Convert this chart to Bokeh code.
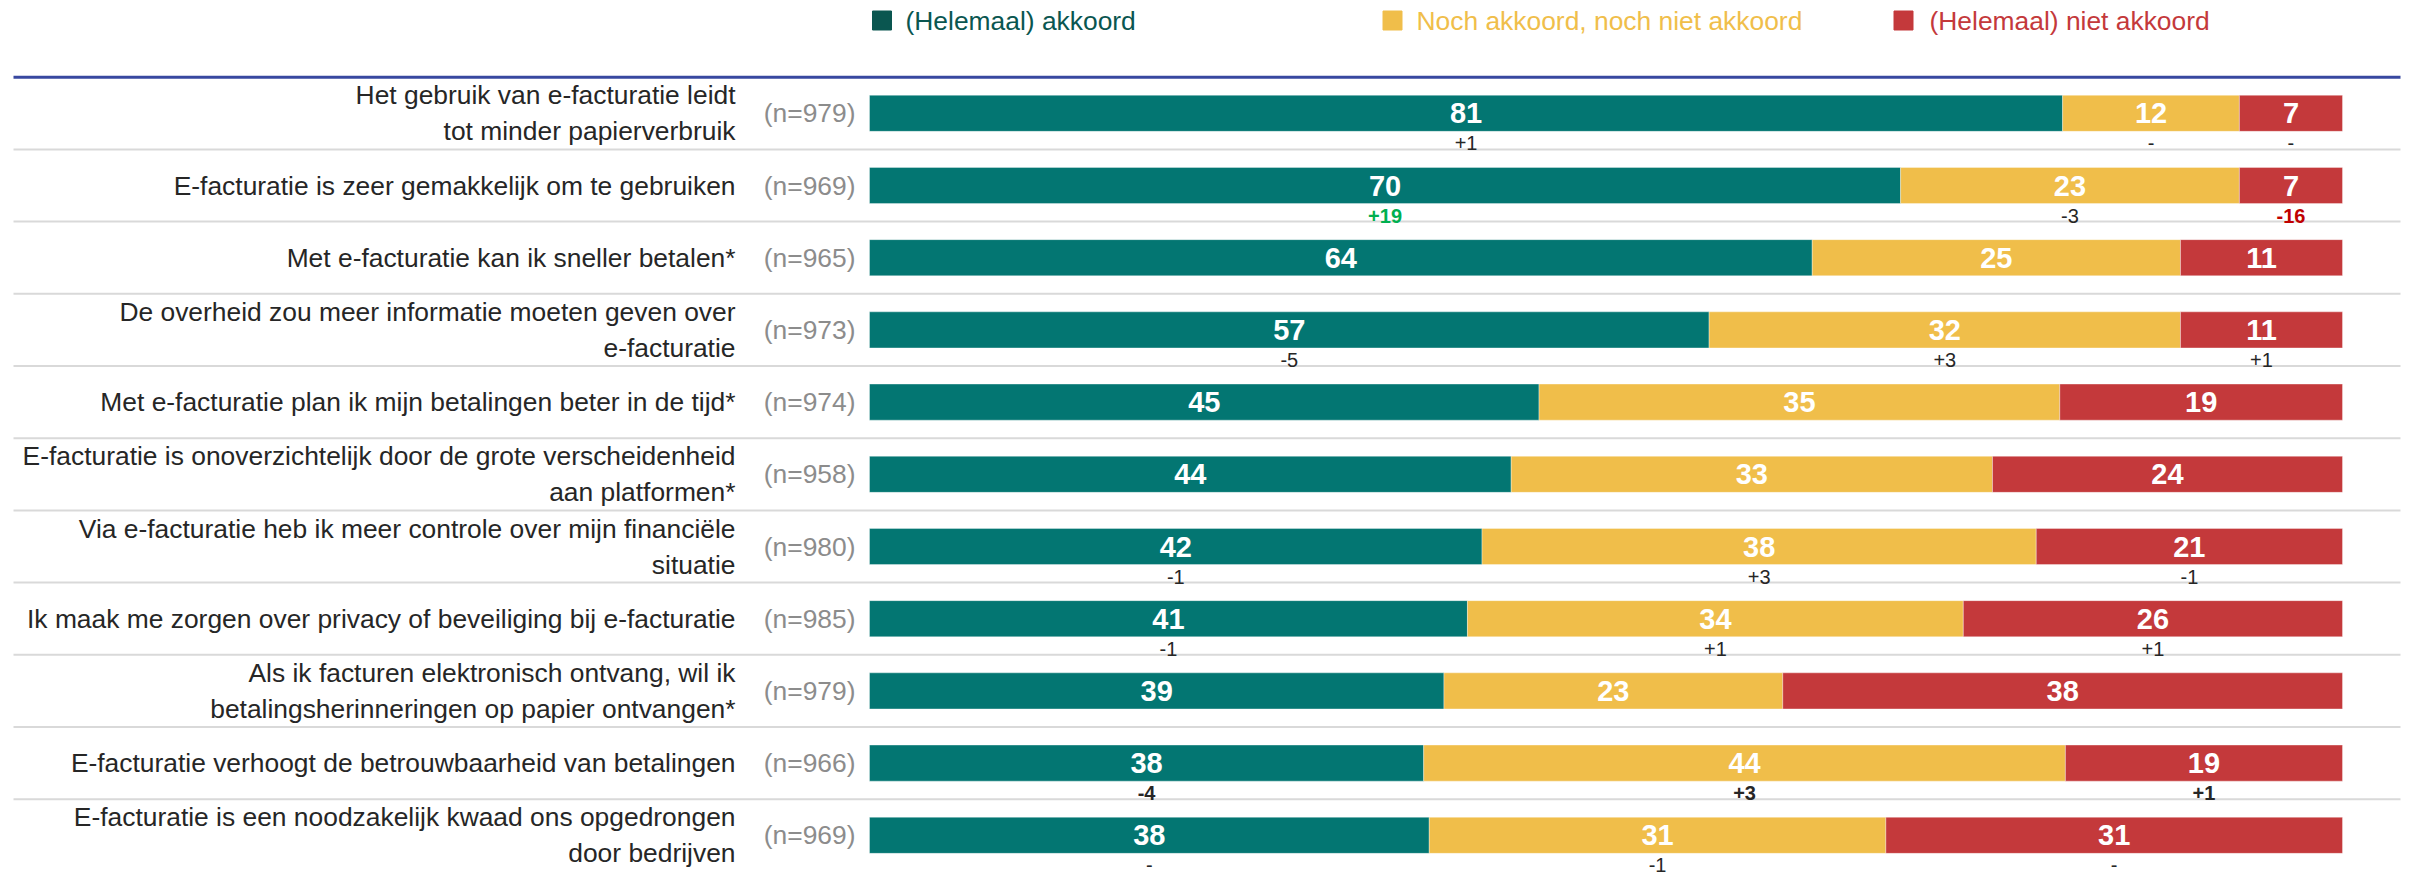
from bokeh.plotting import figure
from bokeh.models import ColumnDataSource, Range1d
from bokeh.core.properties import value
from bokeh.embed import file_html
from bokeh.resources import INLINE

# ---------------- data ----------------
statements = [
    "Het gebruik van e-facturatie leidt\ntot minder papierverbruik",
    "E-facturatie is zeer gemakkelijk om te gebruiken",
    "Met e-facturatie kan ik sneller betalen*",
    "De overheid zou meer informatie moeten geven over\ne-facturatie",
    "Met e-facturatie plan ik mijn betalingen beter in de tijd*",
    "E-facturatie is onoverzichtelijk door de grote verscheidenheid\naan platformen*",
    "Via e-facturatie heb ik meer controle over mijn financiële\nsituatie",
    "Ik maak me zorgen over privacy of beveiliging bij e-facturatie",
    "Als ik facturen elektronisch ontvang, wil ik\nbetalingsherinneringen op papier ontvangen*",
    "E-facturatie verhoogt de betrouwbaarheid van betalingen",
    "E-facturatie is een noodzakelijk kwaad ons opgedrongen\ndoor bedrijven",
]
n_values = [979, 969, 965, 973, 974, 958, 980, 985, 979, 966, 969]

series_names = ["(Helemaal) akkoord", "Noch akkoord, noch niet akkoord", "(Helemaal) niet akkoord"]
agree = [81, 70, 64, 57, 45, 44, 42, 41, 39, 38, 38]
neutral = [12, 23, 25, 32, 35, 33, 38, 34, 23, 44, 31]
disagree = [7, 7, 11, 11, 19, 24, 21, 26, 38, 19, 31]

change_agree = ["+1", "+19", "", "-5", "", "", "-1", "-1", "", "-4", "-"]
change_neutral = ["-", "-3", "", "+3", "", "", "+3", "+1", "", "+3", "-1"]
change_disagree = ["-", "-16", "", "+1", "", "", "-1", "+1", "", "+1", "-"]
# significance marks: "up" (green bold), "down" (red bold), "bold" (black bold), "" normal
sig_agree = ["", "up", "", "", "", "", "", "", "", "bold", ""]
sig_neutral = ["", "", "", "", "", "", "", "", "", "bold", ""]
sig_disagree = ["", "down", "", "", "", "", "", "", "", "bold", ""]

# ---------------- style ----------------
bar_colors = ["#037672", "#F0BE4A", "#C4393B"]
legend_colors = ["#0A5650", "#F0BE4A", "#C4393B"]
FONT = "Liberation Sans"

W, H = 2410, 876
bar_left_px, bar_right_px = 869, 2342          # pixel positions of 0 and 100 %
sx = (bar_right_px - bar_left_px) / 100.0      # px per percent
row0_px, pitch = 112.8, 72.2                   # centre of first row, row pitch


def px_x(px):
    return (px - bar_left_px) / sx


def px_y(px):
    return (px - row0_px) / pitch


p = figure(width=W, height=H, output_backend="svg", toolbar_location=None,
           x_range=Range1d(px_x(0), px_x(W)), y_range=Range1d(px_y(H), px_y(0)),
           min_border=0, min_border_left=0, min_border_right=0,
           min_border_top=0, min_border_bottom=0)
p.xaxis.visible = False
p.yaxis.visible = False
p.grid.visible = False
p.outline_line_color = None
p.background_fill_color = "white"
p.border_fill_color = "white"

rows = list(range(len(statements)))

# separator lines
line_x0, line_x1 = px_x(13), px_x(2400)
p.segment(x0=[line_x0] * (len(rows) - 1), x1=[line_x1] * (len(rows) - 1),
          y0=[r + 0.5 for r in rows[:-1]], y1=[r + 0.5 for r in rows[:-1]],
          line_color="#D9D9D9", line_width=2)
p.segment(x0=[line_x0], x1=[line_x1], y0=[-0.5], y1=[-0.5],
          line_color="#3848A0", line_width=3)

# stacked bars (normalised to the row total)
series = [agree, neutral, disagree]
changes = [change_agree, change_neutral, change_disagree]
sigs = [sig_agree, sig_neutral, sig_disagree]

seg = dict(y=[], left=[], right=[], color=[])
val = dict(x=[], y=[], text=[])
chg_norm = dict(x=[], y=[], text=[], color=[])
chg_bold = dict(x=[], y=[], text=[], color=[])
for r in rows:
    total = sum(s[r] for s in series)
    cum = 0.0
    for k, s in enumerate(series):
        left = cum / total * 100
        cum += s[r]
        right = cum / total * 100
        seg["y"].append(r)
        seg["left"].append(left)
        seg["right"].append(right)
        seg["color"].append(bar_colors[k])
        mid = (left + right) / 2
        val["x"].append(mid)
        val["y"].append(r)
        val["text"].append(str(s[r]))
        t = changes[k][r]
        if t:
            sg = sigs[k][r]
            target = chg_bold if sg else chg_norm
            col = {"up": "#00B050", "down": "#C00000", "bold": "#262626", "": "#262626"}[sg]
            target["x"].append(mid)
            target["y"].append(r + 0.25 + 12 / pitch)
            target["text"].append(t)
            target["color"].append(col)

p.hbar(y="y", left="left", right="right", height=0.5, color="color",
       line_color="white", line_alpha=0.35, line_width=1, source=ColumnDataSource(seg))

p.text(x="x", y="y", text="text", source=ColumnDataSource(val),
       text_font=value(FONT), text_font_size="29px", text_font_style="bold",
       text_color="white", text_align="center", text_baseline="middle")

p.text(x="x", y="y", text="text", text_color="color", source=ColumnDataSource(chg_norm),
       text_font=value(FONT), text_font_size="20px",
       text_align="center", text_baseline="middle")
p.text(x="x", y="y", text="text", text_color="color", source=ColumnDataSource(chg_bold),
       text_font=value(FONT), text_font_size="20px", text_font_style="bold",
       text_align="center", text_baseline="middle")

# statement labels and n
p.text(x=[px_x(735)] * len(rows), y=rows, text=statements,
       text_font=value(FONT), text_font_size="26.4px", text_color="#262626",
       text_align="right", text_baseline="middle", text_line_height=1.2)
p.text(x=[px_x(855)] * len(rows), y=rows, text=[f"(n={n})" for n in n_values],
       text_font=value(FONT), text_font_size="26.4px", text_color="#8C8C8C",
       text_align="right", text_baseline="middle")

# legend
leg_sq_px = [881.5, 1392, 1903]
leg_tx_px = [905, 1416, 1929]
leg_y = px_y(20)
p.scatter(x=[px_x(v) for v in leg_sq_px], y=[leg_y] * 3, marker="square", size=19,
          color=legend_colors)
p.text(x=[px_x(v) for v in leg_tx_px], y=[leg_y] * 3, text=series_names,
       text_color=legend_colors, text_font=value(FONT), text_font_size="26.4px",
       text_align="left", text_baseline="middle")

open("out.html", "w").write(file_html(p, INLINE))
